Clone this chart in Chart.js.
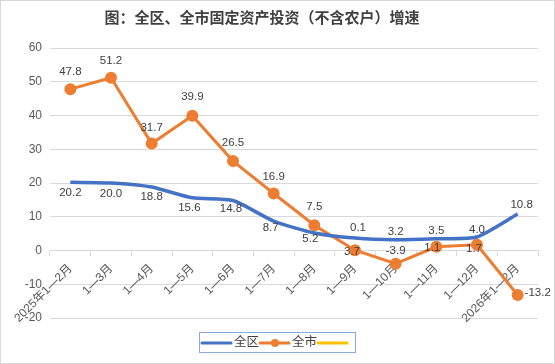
<!DOCTYPE html>
<html>
<head>
<meta charset="utf-8">
<script src="https://cdn.jsdelivr.net/npm/chart.js@4.4.1/dist/chart.umd.min.js"></script>
<style>
  html, body { margin: 0; padding: 0; background: #fff; }
  #wrap { width: 555px; height: 364px; }
</style>
</head>
<body>
<div id="wrap"><canvas id="Chart" width="555" height="364"></canvas></div>
<script>
const months = ["2025年1—2月", "1—3月", "1—4月", "1—5月", "1—6月", "1—7月", "1—8月",
  "1—9月", "1—10月", "1—11月", "1—12月", "2026年1—2月"];
const quValues = [20.2, 20.0, 18.8, 15.6, 14.8, 8.7, 5.2, 3.7, 3.2, 3.5, 4.0, 10.8];
const shiValues = [47.8, 51.2, 31.7, 39.9, 26.5, 16.9, 7.5, 0.1, -3.9, 1.1, 1.7, -13.2];
const yTicks = [-20, -10, 0, 10, 20, 30, 40, 50, 60];

// label nudges (px) so they sit like the original
const quDy = [11, 11, 10, 10, 8, 7, 6, 14, -8, -8, -7, -9];
const quDx = [0, 0, 0, -3, -2, -3, -4, -3, 0, 0, 0, 4];
const shiDy = [-17, -17, -16, -19, -18, -17, -18, -22, -13, 1, 4, -2];
const shiDx = [0, 0, 0, 0, 0, 0, 0, 3, 0, -4, -3, 20];

const FONT = '"Liberation Sans", "Noto Sans CJK SC", sans-serif';

const labelPlugin = {
  id: "pointLabels",
  afterDatasetsDraw(chart) {
    const ctx = chart.ctx;
    const sets = [[0, quDx, quDy], [1, shiDx, shiDy]];
    ctx.save();
    ctx.font = "11.5px " + FONT;
    ctx.fillStyle = "#404040";
    ctx.textAlign = "center";
    ctx.textBaseline = "middle";
    sets.forEach(([idx, dx, dy]) => {
      const meta = chart.getDatasetMeta(idx);
      const vals = chart.data.datasets[idx].data;
      meta.data.forEach((pt, i) => {
        ctx.fillText(vals[i].toFixed(1), pt.x + dx[i], pt.y + dy[i]);
      });
    });
    ctx.restore();
  }
};

const framePlugin = {
  id: "frame",
  afterDraw(chart) {
    const ctx = chart.ctx;
    ctx.save();
    // outer border
    ctx.strokeStyle = "#d9d9d9";
    ctx.lineWidth = 1;
    ctx.strokeRect(0.5, 0.5, chart.width - 1, chart.height - 1);
    // title
    ctx.font = 'bold 15px "Noto Sans CJK SC", sans-serif';
    ctx.fillStyle = "#404040";
    ctx.textAlign = "center";
    ctx.textBaseline = "middle";
    ctx.fillText("图：全区、全市固定资产投资（不含农户）增速", 262, 17);
    // legend
    ctx.strokeStyle = "#8eaadb";
    ctx.strokeRect(199.5, 332.5, 156, 20);
    const ds = chart.data.datasets;
    const items = [[202, 234], [260, 292], [318, null]];
    ctx.font = "12.5px " + FONT;
    ctx.textAlign = "left";
    items.forEach(([x, tx], i) => {
      ctx.strokeStyle = ds[i].borderColor;
      ctx.lineWidth = 3;
      ctx.lineCap = "round";
      ctx.beginPath();
      ctx.moveTo(x, 343);
      ctx.lineTo(x + 29, 343);
      ctx.stroke();
      if (ds[i].pointRadius > 0) {
        ctx.fillStyle = ds[i].borderColor;
        ctx.beginPath();
        ctx.arc(x + 15, 343, 4, 0, Math.PI * 2);
        ctx.fill();
      }
      if (tx !== null) {
        ctx.fillStyle = "#404040";
        ctx.fillText(ds[i].label, tx, 343);
      }
    });
    ctx.restore();
  }
};

new Chart("Chart", {
  type: "line",
  data: {
    labels: months,
    datasets: [{
      label: "全区",
      data: quValues,
      borderColor: "#4472c4",
      borderWidth: 3.5,
      pointRadius: 0,
      tension: 0.2,
      fill: false
    }, {
      label: "全市",
      data: shiValues,
      borderColor: "#ed7d31",
      backgroundColor: "#ed7d31",
      borderWidth: 3,
      pointRadius: 4.5,
      pointHoverRadius: 4.5,
      tension: 0,
      fill: false
    }, {
      label: "",
      data: [],
      borderColor: "#ffc000",
      pointRadius: 0,
      fill: false
    }]
  },
  options: {
    responsive: false,
    animation: false,
    layout: { padding: { top: 48, right: 17, bottom: 46, left: 0 } },
    plugins: {
      legend: { display: false },
      title: { display: false },
      tooltip: { enabled: false }
    },
    scales: {
      x: {
        type: "category",
        position: { y: 0 },
        offset: true,
        grid: { display: true, drawOnChartArea: false, offset: true, tickLength: 5, color: "#d9d9d9" },
        border: { color: "#d9d9d9" },
        ticks: {
          minRotation: 45, maxRotation: 45, autoSkip: false, padding: 6,
          color: "#595959", font: { family: FONT, size: 12 }
        }
      },
      y: {
        min: -20, max: 60,
        afterFit(scale) { scale.width = 50; },
        afterBuildTicks(scale) { scale.ticks = yTicks.map(v => ({ value: v })); },
        grid: { color: "#d9d9d9", drawTicks: false },
        border: { display: false },
        ticks: { padding: 8, color: "#595959", font: { family: FONT, size: 12 } }
      }
    }
  },
  plugins: [labelPlugin, framePlugin]
});
</script>
</body>
</html>
